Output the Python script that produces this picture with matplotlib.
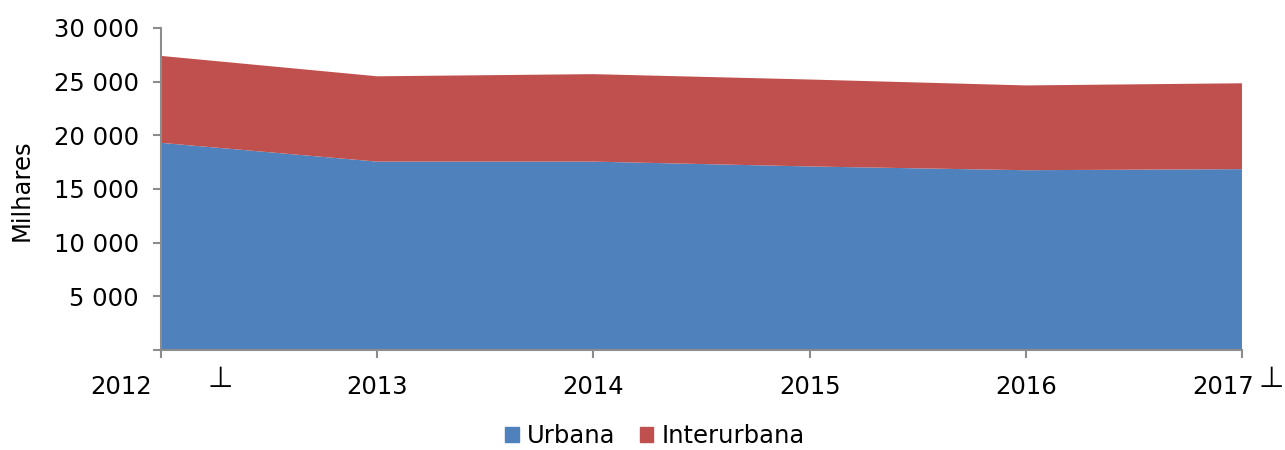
import matplotlib
matplotlib.use("Agg")
import matplotlib.pyplot as plt
import matplotlib.transforms as mtransforms
from matplotlib.patches import Patch
from matplotlib.ticker import FuncFormatter

# passageiros transportados (milhares)
anos = [2012, 2013, 2014, 2015, 2016, 2017]
urbana = [19300, 17550, 17550, 17100, 16750, 16850]
interurbana = [8100, 7950, 8150, 8100, 7900, 8000]

cor_urbana = "#4F81BD"
cor_interurbana = "#C0504D"
cinza = "#8C8C8C"
fs = 17.5

plt.rcParams["font.family"] = ["DejaVu Sans"]

fig = plt.figure(figsize=(12.85, 4.5), dpi=100)
ax = fig.add_axes([0.1253, 0.2222, 0.8412, 0.7156])

ax.stackplot(anos, urbana, interurbana,
             colors=[cor_urbana, cor_interurbana], linewidth=0)

ax.set_xlim(anos[0], anos[-1])
ax.set_ylim(0, 30000)

ax.set_yticks(range(0, 30001, 5000))
ax.yaxis.set_major_formatter(FuncFormatter(
    lambda v, p: "" if v == 0 else f"{int(v):,}".replace(",", " ")))
ax.set_xticks(anos)
ax.set_xticklabels([str(a) for a in anos])

for s in ["top", "right"]:
    ax.spines[s].set_visible(False)
for s in ["left", "bottom"]:
    ax.spines[s].set_color(cinza)
    ax.spines[s].set_linewidth(1.5)

ax.tick_params(axis="both", colors=cinza, labelcolor="black",
               length=6, width=1.5, labelsize=fs)
ax.tick_params(axis="y", pad=10)
ax.tick_params(axis="x", pad=12)

# rótulos das pontas deslocados para a esquerda
labels = ax.get_xticklabels()
labels[0].set_transform(labels[0].get_transform() +
                        mtransforms.ScaledTranslation(-40 / 100, 0, fig.dpi_scale_trans))
labels[-1].set_transform(labels[-1].get_transform() +
                         mtransforms.ScaledTranslation(-19 / 100, 0, fig.dpi_scale_trans))

# marcas soltas junto ao eixo
fig.text(220 / 1285, 1 - 379 / 450, "\u22a5", fontsize=21, ha="center", va="center")
fig.text(1271 / 1285, 1 - 379 / 450, "\u22a5", fontsize=21, ha="center", va="center")

fig.text(22 / 1285, 1 - 190 / 450, "Milhares", fontsize=fs,
         rotation=90, ha="center", va="center")

handles = [Patch(color=cor_urbana, label="Urbana"),
           Patch(color=cor_interurbana, label="Interurbana")]
fig.legend(handles=handles, loc="lower center", bbox_to_anchor=(0.51, -0.025),
           ncol=2, frameon=False, fontsize=fs, handlelength=0.55,
           handleheight=0.55, handletextpad=0.35, columnspacing=1.0,
           borderpad=0.05)

fig.savefig("out.png", dpi=100)
